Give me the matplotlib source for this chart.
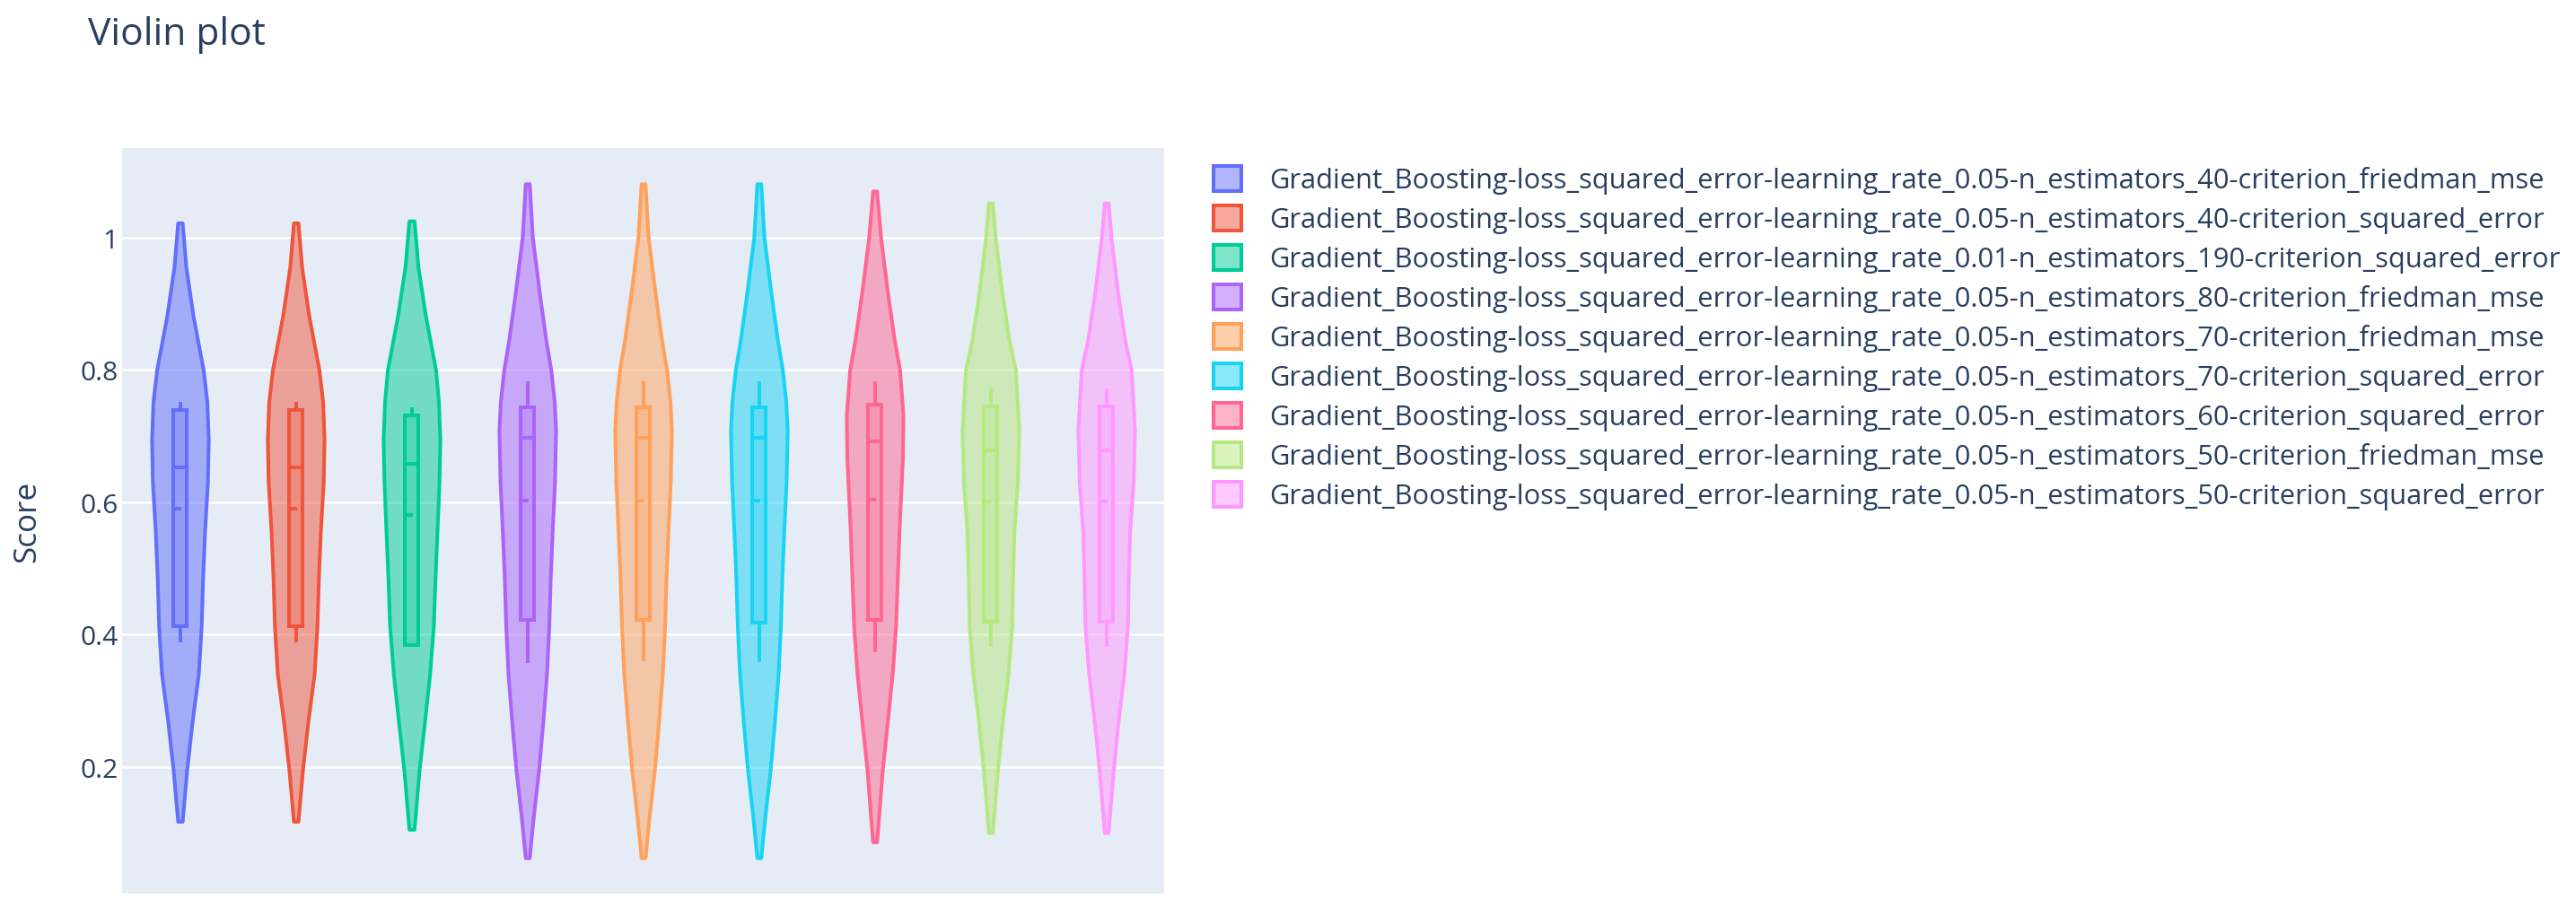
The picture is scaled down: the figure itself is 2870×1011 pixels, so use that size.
import numpy as np
import matplotlib
matplotlib.use("Agg")
import matplotlib.pyplot as plt
from matplotlib.patches import Patch
from matplotlib.colors import to_rgba

plt.rcParams['font.family'] = ['Open Sans', 'DejaVu Sans']

#%% data

names = [
    "Gradient_Boosting-loss_squared_error-learning_rate_0.05-n_estimators_40-criterion_friedman_mse",
    "Gradient_Boosting-loss_squared_error-learning_rate_0.05-n_estimators_40-criterion_squared_error",
    "Gradient_Boosting-loss_squared_error-learning_rate_0.01-n_estimators_190-criterion_squared_error",
    "Gradient_Boosting-loss_squared_error-learning_rate_0.05-n_estimators_80-criterion_friedman_mse",
    "Gradient_Boosting-loss_squared_error-learning_rate_0.05-n_estimators_70-criterion_friedman_mse",
    "Gradient_Boosting-loss_squared_error-learning_rate_0.05-n_estimators_70-criterion_squared_error",
    "Gradient_Boosting-loss_squared_error-learning_rate_0.05-n_estimators_60-criterion_squared_error",
    "Gradient_Boosting-loss_squared_error-learning_rate_0.05-n_estimators_50-criterion_friedman_mse",
    "Gradient_Boosting-loss_squared_error-learning_rate_0.05-n_estimators_50-criterion_squared_error",
]
colors = ["#636efa", "#EF553B", "#00cc96", "#ab63fa", "#FFA15A",
          "#19d3f3", "#FF6692", "#B6E880", "#FF97FF"]

# violin outline: score levels and relative density (1 = widest)
ys_a = [1.022, 0.955, 0.882, 0.800, 0.752, 0.695, 0.630, 0.557, 0.485, 0.413, 0.341, 0.269, 0.196, 0.118]
ws_a = [0.08, 0.21, 0.46, 0.82, 0.95, 1.00, 0.97, 0.87, 0.80, 0.75, 0.65, 0.43, 0.24, 0.08]
ys_b = [1.025, 0.955, 0.882, 0.800, 0.752, 0.695, 0.630, 0.557, 0.485, 0.413, 0.341, 0.269, 0.196, 0.106]
ws_b = [0.09, 0.23, 0.49, 0.85, 0.95, 1.00, 0.97, 0.90, 0.83, 0.77, 0.64, 0.46, 0.27, 0.09]
ys_c = [1.081, 1.000, 0.918, 0.846, 0.800, 0.752, 0.709, 0.630, 0.557, 0.485, 0.413, 0.341, 0.269, 0.196, 0.124, 0.063]
ws_c = [0.07, 0.18, 0.42, 0.65, 0.83, 0.95, 1.00, 0.96, 0.88, 0.81, 0.76, 0.68, 0.55, 0.40, 0.21, 0.07]
ys_d = [1.070, 1.000, 0.918, 0.846, 0.800, 0.731, 0.666, 0.557, 0.485, 0.413, 0.341, 0.269, 0.196, 0.124, 0.087]
ws_d = [0.07, 0.21, 0.45, 0.69, 0.88, 1.00, 0.98, 0.86, 0.80, 0.74, 0.62, 0.45, 0.27, 0.14, 0.07]
ys_e = [1.052, 1.000, 0.918, 0.846, 0.800, 0.709, 0.630, 0.557, 0.485, 0.413, 0.341, 0.269, 0.196, 0.124, 0.101]
ws_e = [0.07, 0.17, 0.40, 0.65, 0.88, 1.00, 0.95, 0.83, 0.78, 0.75, 0.62, 0.42, 0.25, 0.11, 0.07]

prof_y = [ys_a, ys_a, ys_b, ys_c, ys_c, ys_c, ys_d, ys_e, ys_e]
prof_w = [ws_a, ws_a, ws_b, ws_c, ws_c, ws_c, ws_d, ws_e, ws_e]

# box stats
q1 = [0.413, 0.413, 0.384, 0.422, 0.422, 0.418, 0.422, 0.420, 0.420]
q3 = [0.739, 0.739, 0.731, 0.743, 0.743, 0.743, 0.747, 0.745, 0.745]
med = [0.653, 0.653, 0.658, 0.697, 0.697, 0.697, 0.692, 0.679, 0.679]
mean = [0.590, 0.590, 0.581, 0.603, 0.603, 0.603, 0.604, 0.601, 0.601]
lo_fence = [0.389, 0.389, 0.384, 0.357, 0.360, 0.359, 0.373, 0.381, 0.381]
hi_fence = [0.751, 0.751, 0.743, 0.783, 0.783, 0.783, 0.783, 0.772, 0.772]

yticks = [0.2, 0.4, 0.6, 0.8, 1.0]
ytick_labels = ["0.2", "0.4", "0.6", "0.8", "1"]

#%% figure

txt = "#2a3f5f"
W, H = 2870, 1012
fig = plt.figure(figsize=(W / 100, H / 100), dpi=100)
ax = fig.add_axes([136 / W, 1 - 997 / H, 1161 / W, 831 / H])
ax.set_facecolor("#E5ECF6")
for s in ax.spines.values():
    s.set_visible(False)

half = 0.245
bw = 0.124
lw = 2.9
pos = np.arange(len(names))

for i in range(len(names)):
    c = colors[i]
    y = np.array(prof_y[i])
    w = np.array(prof_w[i]) * half
    ax.fill_betweenx(y, pos[i] - w, pos[i] + w, facecolor=to_rgba(c, 0.5),
                     edgecolor=c, linewidth=lw, zorder=3)
    ax.bar(pos[i], q3[i] - q1[i], bottom=q1[i], width=bw,
           facecolor=to_rgba(c, 0.25), edgecolor=c, linewidth=lw, zorder=4)
    ax.vlines([pos[i], pos[i]], [lo_fence[i], q3[i]], [q1[i], hi_fence[i]], color=c,
              linewidth=lw, zorder=4)
    ax.hlines(med[i], pos[i] - bw / 2, pos[i] + bw / 2, color=c, linewidth=lw, zorder=5)
    ax.hlines(mean[i], pos[i] - bw / 2, pos[i] + 0.01, color=c, linewidth=lw, zorder=5)

ax.set_xlim(-0.5, len(names) - 0.5)
ax.set_ylim(0.009, 1.135)
ax.set_xticks([])
ax.set_yticks(yticks)
ax.set_yticklabels(ytick_labels)
ax.tick_params(axis="y", length=0, pad=3, labelsize=21.6, labelcolor=txt)
ax.yaxis.grid(True, color="white", linewidth=1.9, zorder=0)
ax.set_axisbelow(True)

ax.set_ylabel("Score", fontsize=25.2, color=txt)
ax.yaxis.label.set_va("center")
ax.yaxis.set_label_coords((30 - 136) / 1161, 0.5)

fig.text(98 / W, 1 - 50 / H, "Violin plot", fontsize=30.6, color=txt,
         ha="left", va="baseline")

handles = [Patch(facecolor=to_rgba(c, 0.5), edgecolor=c, linewidth=lw) for c in colors]
leg = fig.legend(handles, names, loc="upper left",
                 bbox_to_anchor=(1352 / W, 1 - 186 / H), frameon=False,
                 fontsize=22.2, handlelength=1.0, handleheight=1.0,
                 handletextpad=1.0, labelspacing=0.41, borderpad=0,
                 borderaxespad=0)
for t in leg.get_texts():
    t.set_color(txt)

fig.savefig("out.png", dpi=100)
